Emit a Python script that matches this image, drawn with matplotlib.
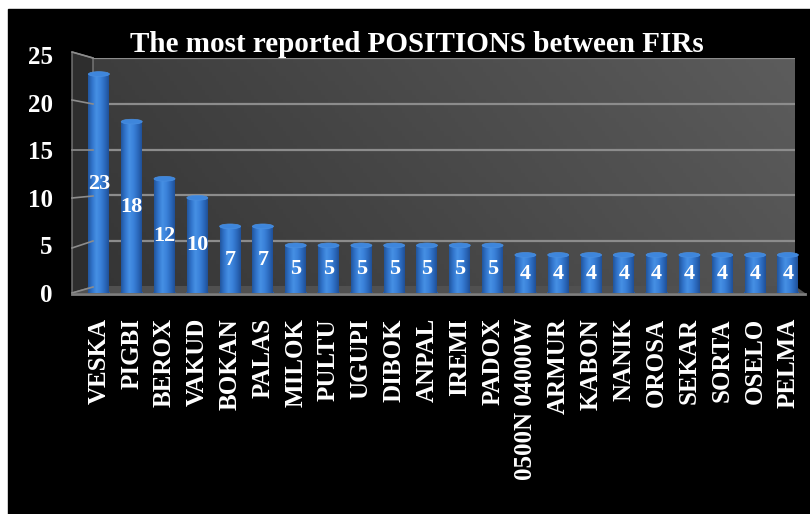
import numpy as np
import matplotlib
matplotlib.use('Agg')
import matplotlib.pyplot as plt
from matplotlib.patches import Rectangle, Polygon, Ellipse
from matplotlib.colors import LinearSegmentedColormap

# data
positions = ['VESKA', 'PIGBI', 'BEROX', 'VAKUD', 'BOKAN', 'PALAS', 'MILOK', 'PULTU',
             'UGUPI', 'DIBOK', 'ANPAL', 'IREMI', 'PADOX', '0500N 04000W', 'ARMUR',
             'KABON', 'NANIK', 'OROSA', 'SEKAR', 'SORTA', 'OSELO', 'PELMA']
counts = [23, 18, 12, 10, 7, 7, 5, 5, 5, 5, 5, 5, 5, 4, 4, 4, 4, 4, 4, 4, 4, 4]
y_ticks = [0, 5, 10, 15, 20, 25]
title = 'The most reported POSITIONS between FIRs'

W, H = 810, 514
plt.rcParams['font.family'] = ['Liberation Serif', 'DejaVu Serif']
plt.rcParams['font.weight'] = 'bold'

fig = plt.figure(figsize=(W / 100, H / 100), dpi=100)
fig.patch.set_facecolor('white')


def px(x, y):
    # pixel position (from top-left) -> figure fraction
    return (x / W, 1 - y / H)


def box(x0, y0, x1, y1):
    return [x0 / W, 1 - y1 / H, (x1 - x0) / W, (y1 - y0) / H]


# black slide background
fig.add_artist(Rectangle(px(8, 514), (W - 8) / W, (514 - 9) / H,
                         transform=fig.transFigure, color='black', zorder=-2))

# back wall with gradient and gridlines
wall = fig.add_axes(box(93, 58, 795, 287), zorder=0)
gx = np.linspace(0, 1, 200)
gy = np.linspace(0, 1, 50)
grad = 0.55 * gx[None, :] + 0.15 * gy[:, None]
wall_cmap = LinearSegmentedColormap.from_list('wall', ['#353535', '#5c5c5c'])
wall.imshow(grad, cmap=wall_cmap, aspect='auto', extent=[0, 1, 0, 25],
            origin='lower', vmin=0, vmax=0.7)
wall.set_xlim(0, 1)
wall.set_ylim(0, 25)
for t in y_ticks[1:]:
    wall.axhline(t, color='#8c8c8c', lw=1.6)
wall.axis('off')

# side wall, floor and their edges
side = Polygon([px(72, 52), px(93, 58), px(93, 287), px(72, 293)],
               transform=fig.transFigure, facecolor='#2e2e2e', edgecolor='#7a7a7a', lw=1)
fig.add_artist(side)
floor = Polygon([px(72, 293), px(93, 286), px(795, 286), px(805, 293)],
                transform=fig.transFigure, facecolor='#505050', edgecolor='none')
fig.add_artist(floor)
front_y = [293, 248, 198, 150, 100, 52]
back_y = [287, 241, 196, 150, 104, 58]
for fy, by in zip(front_y, back_y):
    fig.add_artist(plt.Line2D([72 / W, 93 / W], [1 - fy / H, 1 - by / H],
                              transform=fig.transFigure, color='#8c8c8c', lw=1.2))
fig.add_artist(plt.Line2D([72 / W, 805 / W], [1 - 294 / H, 1 - 294 / H],
                          transform=fig.transFigure, color='#7e7e7e', lw=2))

# bars
ax = fig.add_axes(box(72, 55, 800, 293), zorder=1)
ax.set_facecolor('none')
x = np.arange(len(positions))
bw = 0.64
bars = ax.bar(x, counts, width=bw, color='#2f6fc6', zorder=2)
ax.set_xlim(-0.82, len(positions) - 1 + 0.37)
ax.set_ylim(0, 25)

cyl = LinearSegmentedColormap.from_list(
    'cyl', ['#21569e', '#3275cc', '#4690e4', '#3b82da', '#2c6bbf', '#1f5098'])
shade = np.linspace(0, 1, 64)[None, :]
cap_h = 0.5
for b in bars:
    x0, w, h = b.get_x(), b.get_width(), b.get_height()
    im = ax.imshow(shade, cmap=cyl, aspect='auto', extent=[x0, x0 + w, 0, h],
                   zorder=3)
    im.set_clip_path(b)
    ax.add_patch(Ellipse((x0 + w / 2, 0), w, cap_h, color='#2560b0', zorder=2.5))
    ax.add_patch(Ellipse((x0 + w / 2, h), w, cap_h, facecolor='#3e86dc',
                         edgecolor='#4a8fe0', lw=0.5, zorder=4))

for xi, v in zip(x, counts):
    ax.text(xi, v / 2, str(v), color='white', fontsize=16, fontweight='bold',
            ha='center', va='center', zorder=5)

ax.set_yticks(y_ticks)
ax.set_yticklabels([str(t) for t in y_ticks], fontsize=18, color='white',
                   fontweight='bold')
ax.set_xticks(x)
ax.set_xticklabels(positions, rotation=90, fontsize=18, color='white',
                   fontweight='bold', va='top')
ax.tick_params(axis='y', length=0, pad=14)
ax.tick_params(axis='x', length=0, pad=18)
for s in ax.spines.values():
    s.set_visible(False)

fig.text(417 / W, 1 - 52 / H, title, color='white', fontsize=21,
         fontweight='bold', ha='center', va='baseline')

fig.savefig('out.png', dpi=100, facecolor=fig.get_facecolor())
